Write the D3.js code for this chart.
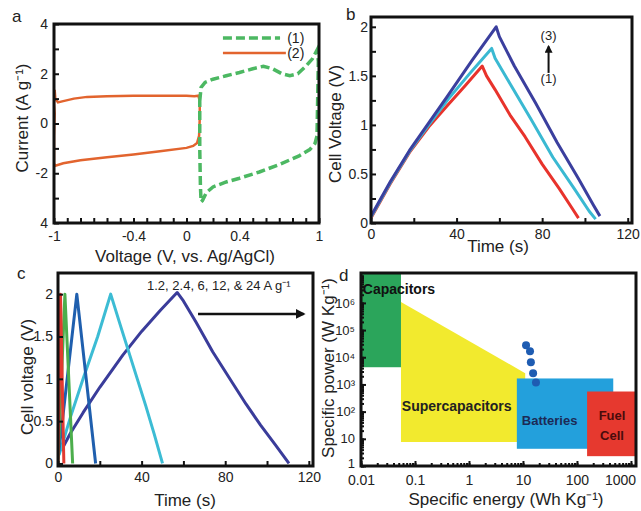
<!DOCTYPE html>
<html>
<head>
<meta charset="utf-8">
<script src="https://cdn.jsdelivr.net/npm/d3@7.9.0/dist/d3.min.js"></script>
<style>
  body { margin: 0; background: #fff; }
  text { font-family: "Liberation Sans", Arial, sans-serif; fill: #222; }
</style>
</head>
<body>
<svg id="fig" width="641" height="511"></svg>
<script>
// ---- panel a: cyclic voltammetry (voltage, current) ----
const cvNames = ['(1)', '(2)'];
const cv1 = [[0.1, 0.9], [0.11, 1.45], [0.14, 1.65], [0.2, 1.78], [0.3, 1.92], [0.4, 2.05], [0.5, 2.2],
  [0.58, 2.3], [0.65, 2.2], [0.72, 2.0], [0.78, 1.92], [0.84, 2.0], [0.9, 2.3], [0.95, 2.6], [0.985, 2.95],
  [0.995, 2.5], [0.99, 1.0], [0.985, -0.5], [0.97, -0.8], [0.93, -1.05], [0.85, -1.3], [0.7, -1.65],
  [0.55, -1.95], [0.4, -2.2], [0.3, -2.35], [0.2, -2.55], [0.15, -2.78], [0.12, -3.1], [0.11, -3.15],
  [0.105, -2.5], [0.1, -1.0], [0.1, 0.9]];
const cv2 = [[-1.0, 0.8], [-0.995, 1.35], [-0.99, 1.0], [-0.97, 0.85], [-0.93, 0.9], [-0.85, 1.0],
  [-0.75, 1.07], [-0.6, 1.1], [-0.4, 1.12], [-0.2, 1.12], [0, 1.12], [0.06, 1.1], [0.09, 1.12], [0.1, 0.9],
  [0.1, 0.2], [0.095, -0.5], [0.08, -0.78], [0.05, -0.9], [0, -0.98], [-0.2, -1.12], [-0.4, -1.25],
  [-0.6, -1.36], [-0.8, -1.48], [-0.93, -1.6], [-0.99, -1.7], [-1.0, -1.6], [-1.0, -0.5], [-0.995, 0.4], [-1.0, 0.8]];
const aXTicks = [-1, -0.4, 0, 0.4, 1];
const aYTicks = [4, 2, 0, -2, -4];
const aYTickText = ['4', '2', '0', '-2', '4'];

// ---- panel b: charge/discharge at three voltages (time, voltage) ----
const gcd1 = [[0, 0.05], [9, 0.4], [18, 0.72], [27, 0.98], [35.4, 1.19], [44, 1.4], [52, 1.6], [54, 1.5],
  [58, 1.36], [65, 1.1], [72, 0.88], [80, 0.6], [88, 0.35], [94, 0.15], [97, 0.05]];
const gcd2 = [[0, 0.06], [9, 0.41], [18, 0.73], [27, 1.0], [36, 1.26], [46, 1.52], [56.4, 1.78], [58, 1.68],
  [65, 1.42], [75, 1.05], [85, 0.67], [95, 0.35], [102, 0.12], [105, 0.04]];
const gcd3 = [[0, 0.07], [9, 0.42], [18, 0.74], [27, 1.02], [36, 1.3], [47, 1.65], [58.5, 2.0], [60, 1.9],
  [67, 1.6], [77, 1.22], [87, 0.82], [97, 0.45], [104, 0.18], [107, 0.07]];
const bXTicks = [0, 40, 80, 120];
const bYTicks = [0, 0.5, 1, 1.5, 2];

// ---- panel c: charge/discharge at several current densities ----
const rateText = '1.2, 2.4, 6, 12, & 24 A g⁻¹';
const rate1p2 = [[1.5, 0.15], [6, 0.36], [12, 0.6], [20, 0.9], [31, 1.28], [40, 1.56], [49, 1.81], [57, 2.02],
  [60, 1.92], [66, 1.67], [74, 1.32], [83.5, 0.95], [90, 0.7], [97, 0.45], [104, 0.22], [110.5, 0]];
const rate2p4 = [[0.5, 0.1], [6, 0.55], [12, 1.0], [19, 1.5], [25.2, 2.0], [30, 1.62], [36, 1.15],
  [42, 0.68], [46, 0.35], [50, 0]];
const rate6 = [[0, 0.05], [9, 2.0], [18, 0]];
const rate12 = [[0, 0], [3.3, 2.0], [7, 0]];
const rate24 = [[0, 0], [1.2, 2.0], [2.8, 0]];
const cXTicks = [0, 40, 80, 120];
const cYTicks = [0, 0.5, 1, 1.5, 2];

// ---- panel d: Ragone plot (specific energy, specific power) ----
const capacitors = { x: [0.01, 0.055], y: [4300, 2e7] };
const supercaps = [[0.055, 1.07e6], [11, 2600], [11, 7.6], [0.055, 7.6]];
const batteries = { x: [7.7, 470], y: [4.3, 1660] };
const fuelCell = { x: [154, 1300], y: [2.3, 550] };
const ragoneDots = [[11.4, 27500], [13.5, 16600], [14, 6500], [15.4, 2570], [17.4, 1180]];
const dXTicks = [0.01, 0.1, 1, 10, 100, 1000];
const dYTicks = [1, 10, 100, 1e3, 1e4, 1e5, 1e6];
const sup = ['', '', '²', '³', '⁴', '⁵', '⁶'];

const svg = d3.select('#fig');
const defs = svg.append('defs');
defs.append('marker').attr('id', 'arrow').attr('viewBox', '0 0 10 10')
  .attr('refX', 8).attr('refY', 5).attr('markerWidth', 4).attr('markerHeight', 4)
  .attr('orient', 'auto').append('path').attr('d', 'M0,0L10,5L0,10z').attr('fill', '#111');

function axis(g, orient, scale, pos, values, size, fmt, pad, fs) {
  const a = (orient === 'bottom' ? d3.axisBottom : d3.axisLeft)(scale)
    .tickValues(values).tickSize(size).tickSizeOuter(0).tickPadding(pad || 3)
    .tickFormat(fmt || '');
  const s = g.append('g')
    .attr('transform', orient === 'bottom' ? `translate(0,${pos})` : `translate(${pos},0)`)
    .call(a);
  s.select('.domain').remove();
  s.selectAll('line').attr('stroke', '#111').attr('stroke-width', 2);
  s.selectAll('text').attr('font-size', fs || 14).attr('fill', '#222');
  return s;
}

function frame(g, x, y) {
  g.append('rect')
    .attr('x', x.range()[0]).attr('y', y.range()[1])
    .attr('width', x.range()[1] - x.range()[0]).attr('height', y.range()[0] - y.range()[1])
    .attr('fill', 'none').attr('stroke', '#111').attr('stroke-width', 3);
}

function clip(id, x, y) {
  defs.append('clipPath').attr('id', id).append('rect')
    .attr('x', x.range()[0]).attr('y', y.range()[1])
    .attr('width', x.range()[1] - x.range()[0]).attr('height', y.range()[0] - y.range()[1]);
  return 'url(#' + id + ')';
}

function title(g, txt, x, y, rot, fs) {
  g.append('text').attr('transform', `translate(${x},${y}) rotate(${rot || 0})`)
    .attr('text-anchor', 'middle').attr('font-size', fs || 17).text(txt);
}

// ================= panel a =================
const xa = d3.scaleLinear().domain([-1, 1]).range([54, 319]);
const ya = d3.scaleLinear().domain([-4, 4]).range([223, 24]);
const ga = svg.append('g');
const lineA = d3.line().x(d => xa(d[0])).y(d => ya(d[1]));
const pa = ga.append('g').attr('clip-path', clip('ca', xa, ya));
pa.append('path').attr('d', lineA(cv2)).attr('fill', 'none')
  .attr('stroke', '#e2642e').attr('stroke-width', 2.5);
pa.append('path').attr('d', lineA(cv1)).attr('fill', 'none')
  .attr('stroke', '#4cb862').attr('stroke-width', 3.5).attr('stroke-dasharray', '9,4');

axis(ga, 'bottom', xa, ya(-4), d3.range(-10, 11).map(d => d / 10), -5);
axis(ga, 'bottom', xa, ya(-4), aXTicks, 0, d => String(d), 8);
axis(ga, 'left', ya, xa(-1), d3.range(-4, 5), -5);
axis(ga, 'left', ya, xa(-1), aYTicks, 0, (d, i) => aYTickText[i], 6);
frame(ga, xa, ya);

// legend
ga.append('line').attr('x1', xa(0.275)).attr('x2', xa(0.706)).attr('y1', ya(3.44)).attr('y2', ya(3.44))
  .attr('stroke', '#4cb862').attr('stroke-width', 3.5).attr('stroke-dasharray', '9,4');
ga.append('line').attr('x1', xa(0.275)).attr('x2', xa(0.75)).attr('y1', ya(2.83)).attr('y2', ya(2.83))
  .attr('stroke', '#e2642e').attr('stroke-width', 2.5);
cvNames.forEach((n, i) => {
  ga.append('text').attr('x', xa(0.76)).attr('y', ya(i === 0 ? 3.24 : 2.63)).attr('font-size', 14).text(n);
});
title(ga, 'Voltage (V, vs. Ag/AgCl)', 185, 262);
title(ga, 'Current (A g⁻¹)', 28, 118, -90);
ga.append('text').attr('x', 12).attr('y', 22).attr('font-size', 17).text('a');

// ================= panel b =================
const xb = d3.scaleLinear().domain([0, 122]).range([371, 632]);
const yb = d3.scaleLinear().domain([0, 2.1]).range([223, 17]);
const gb = svg.append('g');
const lineB = d3.line().x(d => xb(d[0])).y(d => yb(d[1]));
const pb = gb.append('g').attr('clip-path', clip('cb', xb, yb));
[[gcd1, '#e8332c'], [gcd2, '#3ab9d2'], [gcd3, '#3b3f9e']].forEach(([data, col]) => {
  pb.append('path').attr('d', lineB(data)).attr('fill', 'none')
    .attr('stroke', col).attr('stroke-width', 3).attr('stroke-linejoin', 'round');
});
axis(gb, 'bottom', xb, yb(0), d3.range(0, 121, 20), -5);
axis(gb, 'bottom', xb, yb(0), bXTicks, 0, d => String(d), 6);
axis(gb, 'left', yb, xb(0), d3.range(0, 2.01, 0.25), -5);
axis(gb, 'left', yb, xb(0), bYTicks, 0, d => String(d), 3);
frame(gb, xb, yb);
gb.append('line').attr('x1', xb(83)).attr('x2', xb(83)).attr('y1', yb(1.53)).attr('y2', yb(1.8))
  .attr('stroke', '#111').attr('stroke-width', 2).attr('marker-end', 'url(#arrow)');
gb.append('text').attr('x', xb(83)).attr('y', yb(1.865)).attr('text-anchor', 'middle').attr('font-size', 13).text('(3)');
gb.append('text').attr('x', xb(83)).attr('y', yb(1.43)).attr('text-anchor', 'middle').attr('font-size', 13).text('(1)');
title(gb, 'Time (s)', 498, 252);
title(gb, 'Cell Voltage (V)', 341, 124, -90);
gb.append('text').attr('x', 346).attr('y', 20).attr('font-size', 17).text('b');

// ================= panel c =================
const xc = d3.scaleLinear().domain([0, 122]).range([58, 313]);
const yc = d3.scaleLinear().domain([-0.03, 2.25]).range([466, 273]);
const gc = svg.append('g');
const lineC = d3.line().x(d => xc(d[0])).y(d => yc(d[1]));
const pc = gc.append('g').attr('clip-path', clip('cc', xc, yc));
[[rate1p2, '#3a3c9a'], [rate2p4, '#3cbcd4'], [rate6, '#1f5fae'], [rate12, '#4cae4c'], [rate24, '#e23a30']]
  .forEach(([data, col]) => {
    pc.append('path').attr('d', lineC(data)).attr('fill', 'none')
      .attr('stroke', col).attr('stroke-width', 3).attr('stroke-linejoin', 'round');
  });
axis(gc, 'bottom', xc, yc(-0.03), d3.range(0, 121, 20), -5);
axis(gc, 'bottom', xc, yc(-0.03), cXTicks, 0, d => String(d), 6);
axis(gc, 'left', yc, xc(0), d3.range(0, 2.01, 0.5), -5);
axis(gc, 'left', yc, xc(0), cYTicks, 0, d => String(d), 5);
frame(gc, xc, yc);
gc.append('text').attr('x', xc(42.6)).attr('y', yc(2.05)).attr('font-size', 13).text(rateText);
gc.append('line').attr('x1', xc(67)).attr('x2', xc(117.5)).attr('y1', yc(1.767)).attr('y2', yc(1.767))
  .attr('stroke', '#111').attr('stroke-width', 2.5).attr('marker-end', 'url(#arrow)');
title(gc, 'Time (s)', 185, 506);
title(gc, 'Cell voltage (V)', 33, 377, -90);
gc.append('text').attr('x', 17).attr('y', 279).attr('font-size', 17).text('c');

// ================= panel d =================
const xd = d3.scaleLog().domain([0.01, 1240]).range([361, 636]);
const yd = d3.scaleLog().domain([1, Math.pow(10, 7.1)]).range([466, 273]);
const gd = svg.append('g');
const pd = gd.append('g').attr('clip-path', clip('cd', xd, yd));
function box(b, col) {
  pd.append('rect').attr('x', xd(b.x[0])).attr('y', yd(b.y[1]))
    .attr('width', xd(b.x[1]) - xd(b.x[0])).attr('height', yd(b.y[0]) - yd(b.y[1])).attr('fill', col);
}
box(capacitors, '#2ba55b');
pd.append('path').attr('d', d3.line().x(d => xd(d[0])).y(d => yd(d[1]))(supercaps) + 'Z').attr('fill', '#f2ea2e');
box(batteries, '#23a0dc');
box(fuelCell, '#e6392f');
pd.selectAll('circle').data(ragoneDots).join('circle')
  .attr('cx', d => xd(d[0])).attr('cy', d => yd(d[1])).attr('r', 4).attr('fill', '#1e5cb2');

const xMinor = xd.ticks().filter(d => d >= 0.01 && d <= 1000);
const yMinor = yd.ticks().filter(d => d <= 1e7);
axis(gd, 'bottom', xd, yd(1), xMinor, -3);
const dx = axis(gd, 'bottom', xd, yd(1), dXTicks, -5, d => String(d), 9);
dx.selectAll('text').filter(d => d === 1000).attr('dx', -11);
axis(gd, 'left', yd, xd(0.01), yMinor, -3);
axis(gd, 'left', yd, xd(0.01), dYTicks, -5, (d, i) => i < 2 ? String(d) : '10' + sup[i], 6, 13)
  .selectAll('text').filter(d => d === 1).attr('dy', '0.1em');

const bold = (t, x, y, fs, col, anchor) => gd.append('text').attr('x', x).attr('y', y)
  .attr('font-size', fs).attr('font-weight', 'bold').attr('text-anchor', anchor || 'start')
  .style('fill', col).text(t);
bold('Capacitors', xd(0.0108), yd(2.2e6), 14, '#111');
bold('Supercapacitors', xd(0.057), yd(110), 14, '#222');
bold('Batteries', xd(9.5), yd(32), 13, '#1c2a55');
bold('Fuel', xd(446), yd(49), 13, '#4a0c0c', 'middle');
bold('Cell', xd(446), yd(9), 13, '#4a0c0c', 'middle');
frame(gd, xd, yd);
title(gd, 'Specific energy (Wh Kg⁻¹)', 506, 505);
title(gd, 'Specific power (W Kg⁻¹)', 334, 368, -90);
gd.append('text').attr('x', 339).attr('y', 281).attr('font-size', 17).text('d');
</script>
</body>
</html>
